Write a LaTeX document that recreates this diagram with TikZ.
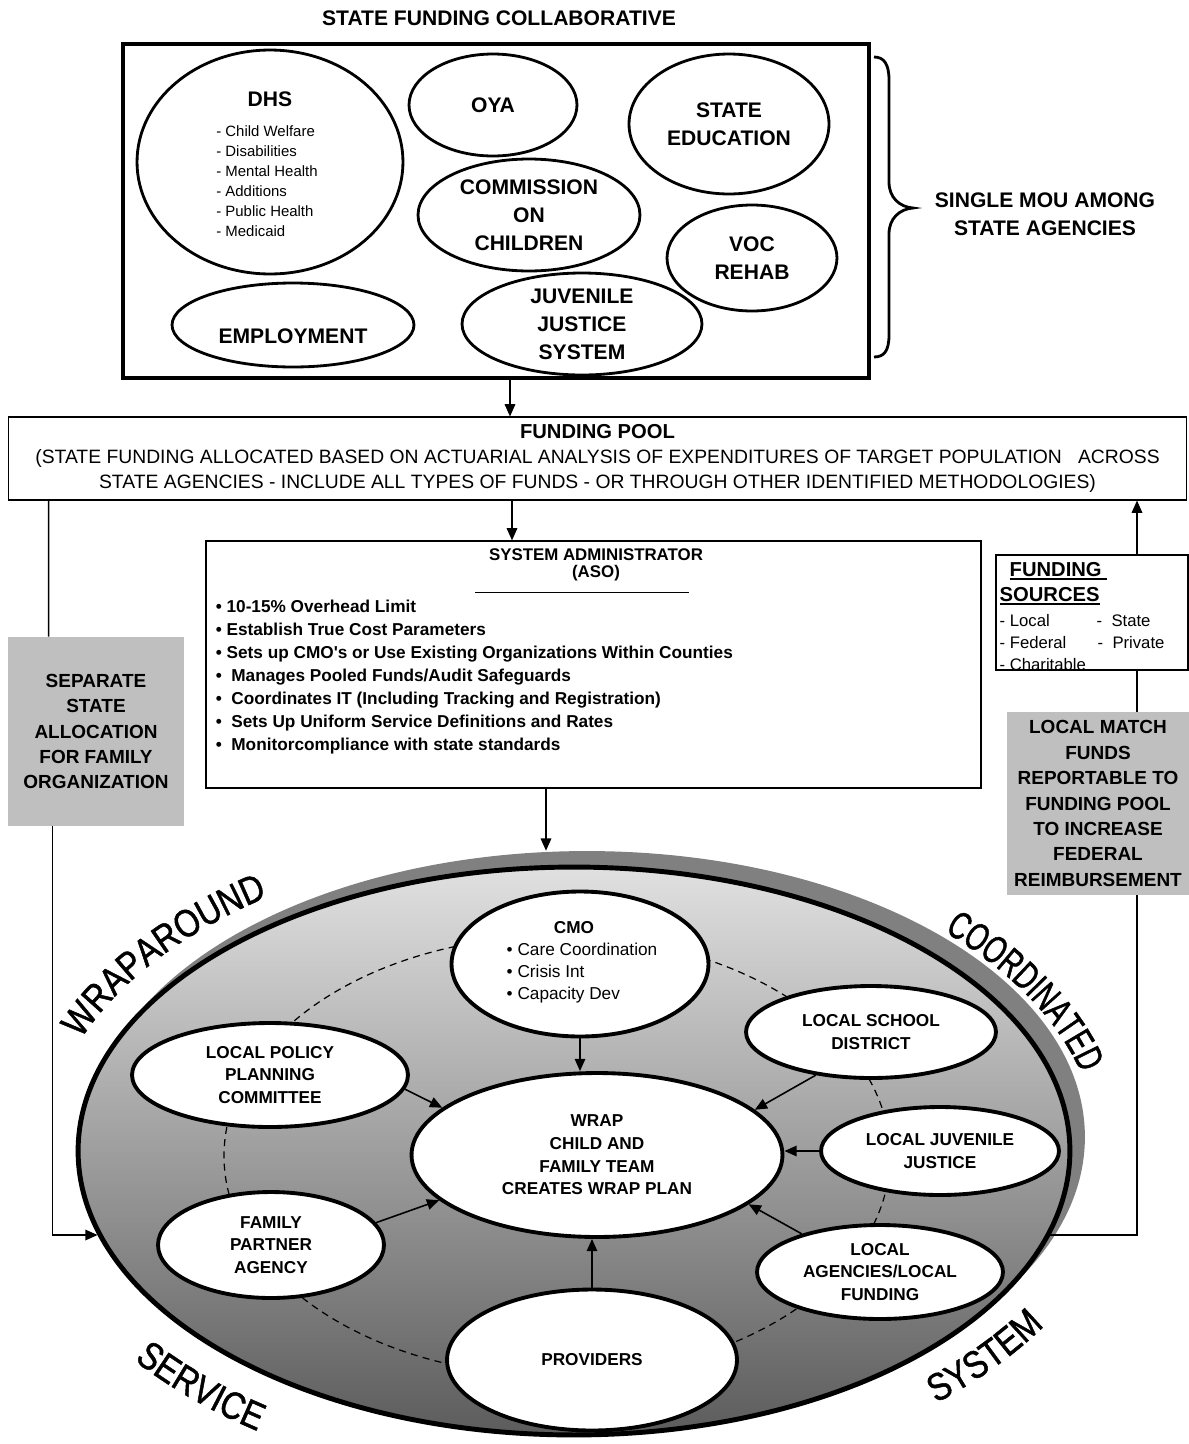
\documentclass[tikz,border=0pt]{standalone}
\usepackage{fontspec}
\setmainfont{Liberation Sans}
\newfontfamily\narrowsans[FakeStretch=0.84, FakeBold=1.2]{Liberation Sans}
\newfontfamily\narrowersans[FakeStretch=0.7, FakeBold=1.2]{Liberation Sans}
\usetikzlibrary{arrows.meta, positioning, calc, shapes.geometric, decorations.text}

\newcommand{\fsz}[2]{\fontsize{#1}{#2}\selectfont}
\newcommand{\arcfont}{\narrowsans\fontsize{22}{22}\selectfont}
\newcommand{\arcfontb}{\narrowersans\fontsize{22}{22}\selectfont}
\newcommand{\thickul}[1]{\setbox0\hbox{#1}\rlap{\rule[-2.2pt]{\wd0}{1.1pt}}\box0}

\begin{document}
\begin{tikzpicture}[
  x=0.02cm, y=0.02cm,
  agency/.style={
    ellipse,
    draw,
    line width=1.6pt,
    fill=white,
    inner sep=0pt,
    align=center,
    font=\fsz{12}{16}\bfseries
  },
  member/.style={
    ellipse,
    draw,
    line width=2.2pt,
    fill=white,
    inner sep=0pt,
    align=center,
    font=\fsz{9.8}{12.9}\bfseries
  },
  graybox/.style={
    rectangle,
    fill=black!25,
    inner sep=0pt,
    align=center,
    font=\fsz{10.8}{14.5}\bfseries
  },
  plainbox/.style={
    rectangle,
    draw,
    fill=white,
    inner sep=0pt,
    line width=0.7pt
  },
  ringshadow/.style={
    ellipse,
    fill=black!50,
    inner sep=0pt,
    minimum width=19.92cm,
    minimum height=11.44cm
  },
  ringbody/.style={
    ellipse,
    draw,
    line width=2.8pt,
    top color=black!12,
    bottom color=black!64,
    inner sep=0pt,
    minimum width=19.84cm,
    minimum height=11.36cm
  },
  arrow/.style={-{Triangle[length=7pt,width=6pt]}, line width=0.9pt},
  link/.style={line width=0.8pt},
  ringdash/.style={dash pattern=on 4pt off 3pt, line width=0.7pt}
]

\useasboundingbox (0,0) rectangle (1189,-1444);

% ============================================================
% State funding collaborative
% ============================================================

\node[font=\fsz{12}{16}\bfseries] (title) at (499,-18) {STATE FUNDING COLLABORATIVE};

\node[rectangle, draw, line width=2.4pt, minimum width=14.92cm, minimum height=6.68cm] (collab) at (496,-211) {};

\node[agency, minimum width=5.32cm, minimum height=4.48cm] (dhs) at (270,-162) {};
\node[font=\fsz{12}{16}\bfseries] at ($(dhs)+(0,63)$) {DHS};
\node[anchor=west, inner sep=0pt, align=left, font=\fsz{8.5}{11.4}] at ($(dhs)+(-54,-19)$) {
- Child Welfare\\- Disabilities\\- Mental Health\\- Additions\\- Public Health\\- Medicaid
};

\node[agency, minimum width=3.36cm, minimum height=2.04cm] (oya) at (493,-105) {OYA};
\node[agency, minimum width=4.0cm, minimum height=2.8cm] (sted) at (729,-124) {STATE\\EDUCATION};
\node[agency, minimum width=4.44cm, minimum height=2.24cm] (comm) at (529,-215) {COMMISSION\\ON\\CHILDREN};
\node[agency, minimum width=3.4cm, minimum height=2.12cm] (voc) at (752,-258) {VOC\\REHAB};
\node[agency, minimum width=4.84cm, minimum height=1.68cm] (emp) at (293,-325) {};
\node[font=\fsz{12}{16}\bfseries] at ($(emp)+(0,-11)$) {EMPLOYMENT};
\node[agency, minimum width=4.8cm, minimum height=2.04cm] (jjs) at (582,-324) {JUVENILE\\JUSTICE\\SYSTEM};

% brace
\draw[line width=1.6pt] (874,-57) .. controls (884,-57) and (889,-64) .. (889,-80)
  -- (889,-182) .. controls (889,-198) and (900,-207) .. (913,-208)
  .. controls (900,-209) and (889,-218) .. (889,-234)
  -- (889,-335) .. controls (889,-351) and (884,-357) .. (874,-357);

\node[font=\fsz{12}{16}\bfseries, align=center] (mou) at (1045,-214) {SINGLE MOU AMONG\\STATE AGENCIES};

% ============================================================
% Funding pool
% ============================================================

\node[plainbox, line width=0.6pt, minimum width=23.58cm, minimum height=1.66cm, align=center, font=\fsz{11}{14.2}] (pool) at (597.5,-458.5) {
{\fsz{11.5}{14.2}\bfseries FUNDING POOL}\\
(STATE FUNDING ALLOCATED BASED ON ACTUARIAL ANALYSIS OF EXPENDITURES OF TARGET POPULATION\ \ \ ACROSS\\
STATE AGENCIES - INCLUDE ALL TYPES OF FUNDS - OR THROUGH OTHER IDENTIFIED METHODOLOGIES)
};

\coordinate (c1) at ($(collab.south)+(14,0)$);
\draw[arrow] (c1) -- (c1 |- pool.north);

% ============================================================
% System administrator
% ============================================================

\node[plainbox, minimum width=15.5cm, minimum height=4.94cm] (admin) at (593.5,-664.5) {};
\node[font=\fsz{9.6}{12}\bfseries] at ($(admin.north)+(2.5,-14)$) {SYSTEM ADMINISTRATOR};
\node[font=\fsz{9.6}{12}\bfseries] at ($(admin.north)+(2.5,-33)$) {(ASO)};
\draw[line width=0.8pt] ($(admin.north west)+(270,-52)$) -- ++(214,0);
\node[anchor=north west, inner sep=0pt, align=left, font=\fsz{9.8}{13.1}\bfseries] at ($(admin.north west)+(10,-59)$) {
\textbullet\ 10-15\% Overhead Limit\\
\textbullet\ Establish True Cost Parameters\\
\textbullet\ Sets up CMO\textquotesingle s or Use Existing Organizations Within Counties\\
\textbullet\ \ Manages Pooled Funds/Audit Safeguards\\
\textbullet\ \ Coordinates IT (Including Tracking and Registration)\\
\textbullet\ \ Sets Up Uniform Service Definitions and Rates\\
\textbullet\ \ Monitorcompliance with state standards
};

\coordinate (c2) at ($(pool.south)+(-85.5,0)$);
\draw[arrow] (c2) -- (c2 |- admin.north);

% ============================================================
% Funding sources and local match
% ============================================================

\node[plainbox, line width=0.8pt, minimum width=3.84cm, minimum height=2.3cm] (fsrc) at (1092,-612.5) {};
\node[anchor=base west, inner sep=0pt, font=\fsz{11.5}{14}\bfseries] at ($(fsrc.north west)+(14,-22)$) {\thickul{FUNDING\ }};
\node[anchor=base west, inner sep=0pt, font=\fsz{11.5}{14}\bfseries] at ($(fsrc.north west)+(4,-47)$) {\thickul{SOURCES}};
\node[anchor=base west, inner sep=0pt, font=\fsz{9.5}{12}] at ($(fsrc.north west)+(4,-72)$) {- Local};
\node[anchor=base west, inner sep=0pt, font=\fsz{9.5}{12}] at ($(fsrc.north west)+(101,-72)$) {-\ \ State};
\node[anchor=base west, inner sep=0pt, font=\fsz{9.5}{12}] at ($(fsrc.north west)+(4,-94)$) {- Federal};
\node[anchor=base west, inner sep=0pt, font=\fsz{9.5}{12}] at ($(fsrc.north west)+(102,-94)$) {-\ \ Private};
\node[anchor=base west, inner sep=0pt, font=\fsz{9.5}{12}] at ($(fsrc.north west)+(4,-116)$) {- Charitable};

\node[graybox, minimum width=3.64cm, minimum height=3.66cm] (match) at (1098,-803.5) {
LOCAL MATCH\\FUNDS\\REPORTABLE TO\\FUNDING POOL\\TO INCREASE\\FEDERAL\\REIMBURSEMENT
};

\node[graybox, minimum width=3.52cm, minimum height=3.78cm] (sep) at (96,-731.5) {
SEPARATE\\STATE\\ALLOCATION\\FOR FAMILY\\ORGANIZATION
};

% ============================================================
% Coordinated service system
% ============================================================

\node[ringshadow] (rshadow) at (587,-1137) {};
\node[ringbody] (ring) at (574,-1151) {};

\draw[ringdash] ($(ring.center)+(-17,-5)$) ellipse [x radius=333, y radius=220];

\node[member, minimum width=5.14cm, minimum height=2.9cm] (cmo) at (580,-964) {};
\node[font=\fsz{9.8}{12.9}\bfseries] at ($(cmo)+(-6,36)$) {CMO};
\node[align=left, inner sep=0pt, font=\fsz{9.8}{12.6}] at ($(cmo)+(2,-9)$) {
\textbullet\ Care Coordination\\\textbullet\ Crisis Int\\\textbullet\ Capacity Dev
};

\node[member, minimum width=5.52cm, minimum height=2.08cm] (lpc) at (270,-1075) {LOCAL POLICY\\PLANNING\\COMMITTEE};
\node[member, minimum width=4.52cm, minimum height=2.12cm] (fpa) at (271,-1245) {FAMILY\\PARTNER\\AGENCY};
\node[member, minimum width=7.42cm, minimum height=3.28cm] (wrap) at (597,-1155) {WRAP\\CHILD AND\\FAMILY TEAM\\CREATES WRAP PLAN};
\node[member, minimum width=5.0cm, minimum height=1.84cm] (lsd) at (871,-1032) {LOCAL SCHOOL\\DISTRICT};
\node[member, minimum width=4.76cm, minimum height=1.76cm] (ljj) at (940,-1151) {LOCAL JUVENILE\\JUSTICE};
\node[member, minimum width=4.92cm, minimum height=1.88cm] (laf) at (880,-1272) {LOCAL\\AGENCIES/LOCAL\\FUNDING};
\node[member, minimum width=5.8cm, minimum height=2.82cm] (prov) at (592,-1360) {PROVIDERS};

\draw[arrow] (cmo.south) -- (cmo.south |- wrap.north);
\draw[arrow] (lpc.-6) -- (wrap.163);
\draw[arrow] (fpa.12) -- (wrap.196);
\draw[arrow] (lsd.218) -- (wrap.16);
\draw[arrow] (ljj.west) -- (ljj.west -| wrap.east);
\draw[arrow] (laf.154) -- (wrap.-18);
\draw[arrow] (prov.north) -- (prov.north |- wrap.south);

% words round the ring
\path[decorate, decoration={text along path, text={|\arcfont|WRAPAROUND}}]
  ($(ring.center)+(159:528 and 312)$) arc[start angle=159, end angle=100, x radius=528, y radius=312];
\path[decorate, decoration={text along path, text={|\arcfontb|COORDINATED}}]
  ($(ring.center)+(45:524 and 310)$) arc[start angle=45, end angle=-8, x radius=524, y radius=310];
\path[decorate, decoration={text along path, text={|\arcfont|SERVICE}}]
  ($(ring.center)+(218:558 and 340)$) arc[start angle=218, end angle=265, x radius=558, y radius=340];
\path[decorate, decoration={text along path, text={|\arcfont|SYSTEM}}]
  ($(ring.center)+(311:552 and 334)$) arc[start angle=311, end angle=355, x radius=552, y radius=334];

% ============================================================
% Connecting lines
% ============================================================

\draw[link] ($(pool.south west)+(41,0)$) -- ($(sep.north west)+(41,0)$);
\draw[arrow] ($(sep.south west)+(45,0)$) |- (ring.190);

\coordinate (c3) at ($(admin.south)+(-47.5,0)$);
\draw[arrow] (c3) -- (c3 |- rshadow.north);

\coordinate (c4) at ($(fsrc.south)+(45,0)$);
\draw[arrow] (c4 |- fsrc.north) -- (c4 |- pool.south);
\draw[link] (c4) -- (c4 |- match.north);
\draw[link] (c4 |- match.south) |- (ring.350);

\end{tikzpicture}
\end{document}
